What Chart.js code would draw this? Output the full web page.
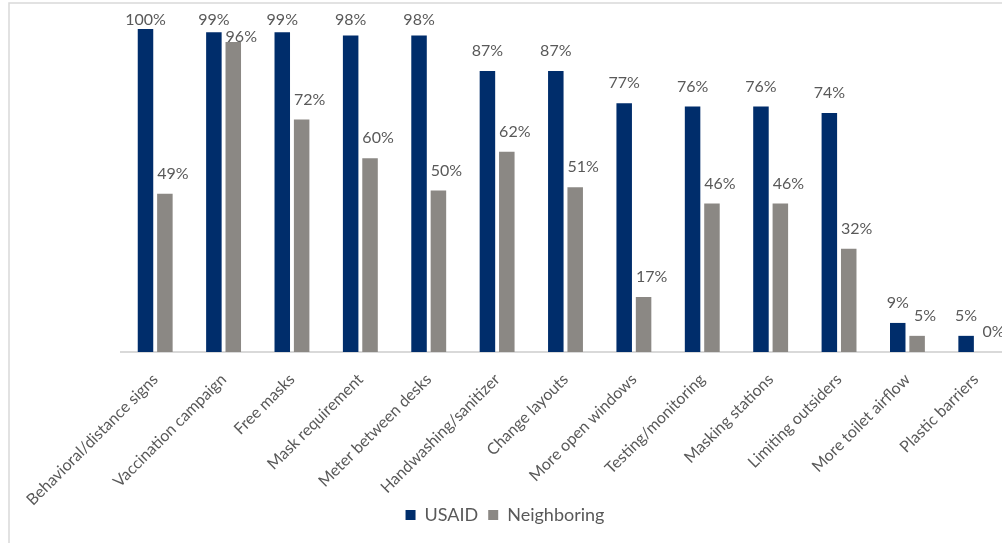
<!DOCTYPE html>
<html>
<head>
<meta charset="utf-8">
<script src="https://cdn.jsdelivr.net/npm/chart.js@4"></script>
<style>
  body { margin: 0; overflow: hidden; background: #fff; }
  #wrap { position: relative; width: 1028px; height: 543px; }
</style>
</head>
<body>
<div id="wrap"><canvas id="chart"></canvas></div>
<script>
const categories = [
    'Behavioral/distance signs', 'Vaccination campaign', 'Free masks', 'Mask requirement',
    'Meter between desks', 'Handwashing/sanitizer', 'Change layouts', 'More open windows',
    'Testing/monitoring', 'Masking stations', 'Limiting outsiders', 'More toilet airflow',
    'Plastic barriers'
];
const usaid = [100, 99, 99, 98, 98, 87, 87, 77, 76, 76, 74, 9, 5];
const neighboring = [49, 96, 72, 60, 50, 62, 51, 17, 46, 46, 32, 5, 0];

const textColor = '#595959';

// chart frame (the original picture is cropped on the right and bottom)
const framePlugin = {
    id: 'frame',
    beforeDraw(chart) {
        const ctx = chart.ctx;
        ctx.save();
        ctx.strokeStyle = '#d9d9d9';
        ctx.lineWidth = 1.5;
        ctx.strokeRect(9, 3, chart.width, chart.height);
        ctx.restore();
    }
};

// value labels above the bars
const labelPlugin = {
    id: 'barLabels',
    afterDatasetsDraw(chart) {
        const ctx = chart.ctx;
        ctx.save();
        ctx.font = '16px Lato';
        ctx.fillStyle = textColor;
        ctx.textAlign = 'center';
        ctx.textBaseline = 'middle';
        chart.data.datasets.forEach((ds, i) => {
            const shiftX = i === 0 ? 0 : 8;
            const minY = i === 0 ? 20 : 37;
            chart.getDatasetMeta(i).data.forEach((bar, j) => {
                const y = Math.max(bar.y - 20, minY);
                ctx.fillText(ds.data[j] + '%', bar.x + shiftX, y);
            });
        });
        ctx.restore();
    }
};

new Chart(document.getElementById('chart'), {
    type: 'bar',
    data: {
        labels: categories,
        datasets: [
            { label: 'USAID', data: usaid, backgroundColor: '#002d6b' },
            { label: 'Neighboring', data: neighboring, backgroundColor: '#8b8884' }
        ]
    },
    options: {
        responsive: true,
        maintainAspectRatio: false,
        animation: false,
        categoryPercentage: 0.567,
        barPercentage: 0.8,
        layout: { padding: { top: 29, right: 18, bottom: 9, left: 0 } },
        plugins: {
            tooltip: { enabled: false },
            legend: {
                position: 'bottom',
                labels: {
                    color: textColor,
                    font: { family: 'Lato', size: 18 },
                    boxWidth: 10,
                    boxHeight: 10,
                    padding: 10
                }
            }
        },
        scales: {
            x: {
                grid: { display: false },
                border: { color: '#d9d9d9', width: 2 },
                ticks: {
                    color: textColor,
                    font: { family: 'Lato', size: 16 },
                    autoSkip: false,
                    maxRotation: 45,
                    minRotation: 45,
                    padding: 10
                },
                afterFit: s => {
                    s.height = 144;
                    // long first label runs a little past the axis box; don't clip it
                    s._computeLabelArea = () => undefined;
                }
            },
            y: {
                min: 0,
                max: 100,
                grid: { display: false },
                border: { display: false },
                ticks: { display: false },
                afterFit: s => { s.width = 121; }
            }
        }
    },
    plugins: [framePlugin, labelPlugin]
});
</script>
</body>
</html>
